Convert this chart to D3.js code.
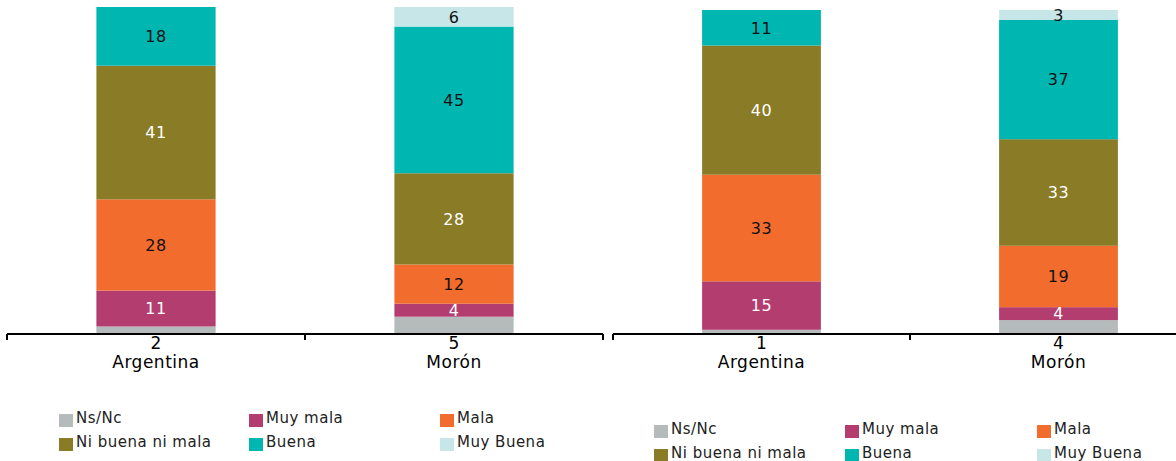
<!DOCTYPE html>
<html>
<head>
<meta charset="utf-8">
<script src="https://cdn.jsdelivr.net/npm/d3@7"></script>
<style>
  html, body { margin: 0; padding: 0; background: #fff; }
  svg { display: block; font-family: "DejaVu Sans", "Open Sans", sans-serif; }
</style>
</head>
<body>
<svg id="chart" width="1176" height="461"></svg>
<script>
// Categories and series
const categories = ["Argentina", "Morón"];
const seriesNames = ["Ns/Nc", "Muy mala", "Mala", "Ni buena ni mala", "Buena", "Muy Buena"];
const seriesColors = ["#b5babb", "#b33d6f", "#f26c2d", "#8a7b26", "#00b6b1", "#c7e6e8"];
const labelColors = ["#111", "#fff", "#111", "#fff", "#111", "#111"];

// Left panel values (per category, in series order)
const nsnc1 = [2, 5];
const muyMala1 = [11, 4];
const mala1 = [28, 12];
const niBuena1 = [41, 28];
const buena1 = [18, 45];
const muyBuena1 = [0, 6];

// Right panel values
const nsnc2 = [1, 4];
const muyMala2 = [15, 4];
const mala2 = [33, 19];
const niBuena2 = [40, 33];
const buena2 = [11, 37];
const muyBuena2 = [0, 3];

function buildRows(cols) {
  return categories.map((c, i) => {
    const row = { category: c };
    seriesNames.forEach((s, j) => row[s] = cols[j][i]);
    return row;
  });
}

const panels = [
  { rows: buildRows([nsnc1, muyMala1, mala1, niBuena1, buena1, muyBuena1]),
    x0: 7, x1: 603, yBase: 333, yTop: 7,
    legend: { x: 59, y: 412, cols: [0, 190, 381] } },
  { rows: buildRows([nsnc2, muyMala2, mala2, niBuena2, buena2, muyBuena2]),
    x0: 613, x1: 1207, yBase: 333, yTop: 10,
    legend: { x: 654, y: 423, cols: [0, 191, 383] } }
];

const svg = d3.select("#chart");
const stack = d3.stack().keys(seriesNames);
const color = d3.scaleOrdinal().domain(seriesNames).range(seriesColors);
const textColor = d3.scaleOrdinal().domain(seriesNames).range(labelColors);

panels.forEach(p => {
  const x = d3.scaleBand().domain(categories).range([p.x0, p.x1])
    .paddingInner(0.6).paddingOuter(0.3);
  const y = d3.scaleLinear().domain([0, 100]).range([p.yBase, p.yTop]);
  const g = svg.append("g");
  const layers = stack(p.rows);

  // stacked bars
  g.selectAll("g.layer").data(layers).join("g")
    .attr("class", "layer")
    .attr("fill", d => color(d.key))
    .selectAll("rect").data(d => d).join("rect")
    .attr("x", d => x(d.data.category))
    .attr("width", x.bandwidth())
    .attr("y", d => y(d[1]))
    .attr("height", d => y(d[0]) - y(d[1]));

  // value labels inside the segments (Ns/Nc goes under the axis)
  layers.forEach(layer => {
    if (layer.key === "Ns/Nc") return;
    g.selectAll(null).data(layer.filter(d => d[1] - d[0] > 0)).join("text")
      .attr("x", d => x(d.data.category) + x.bandwidth() / 2)
      .attr("y", d => (y(d[0]) + y(d[1])) / 2)
      .attr("dy", "0.36em")
      .attr("text-anchor", "middle")
      .attr("font-size", 16)
      .attr("letter-spacing", 0.5)
      .attr("fill", textColor(layer.key))
      .text(d => d[1] - d[0]);
  });

  // axis line with ticks at band boundaries
  const axisY = p.yBase + 1;
  const step = x.step();
  const bounds = [p.x0].concat(categories.slice(1).map(c => x(c) - step * x.paddingInner() / 2), [p.x1]);
  g.append("line")
    .attr("x1", p.x0).attr("x2", p.x1)
    .attr("y1", axisY).attr("y2", axisY)
    .attr("stroke", "#000").attr("stroke-width", 2);
  g.selectAll("line.tick").data(bounds).join("line")
    .attr("class", "tick")
    .attr("x1", d => d).attr("x2", d => d)
    .attr("y1", axisY).attr("y2", axisY + 6)
    .attr("stroke", "#000").attr("stroke-width", 2);

  // Ns/Nc value just below the axis, then the category name
  g.selectAll("text.nsnc").data(p.rows).join("text")
    .attr("class", "nsnc")
    .attr("x", d => x(d.category) + x.bandwidth() / 2)
    .attr("y", axisY + 15)
    .attr("text-anchor", "middle")
    .attr("font-size", 17)
    .attr("fill", "#000")
    .text(d => d["Ns/Nc"]);
  g.selectAll("text.cat").data(categories).join("text")
    .attr("class", "cat")
    .attr("x", d => x(d) + x.bandwidth() / 2)
    .attr("y", axisY + 34)
    .attr("text-anchor", "middle")
    .attr("font-size", 17)
    .attr("letter-spacing", 0.5)
    .attr("fill", "#000")
    .text(d => d);

  // legend: 3 columns x 2 rows
  const lg = g.append("g").attr("transform", `translate(${p.legend.x},${p.legend.y})`);
  const items = lg.selectAll("g").data(seriesNames).join("g")
    .attr("transform", (d, i) => `translate(${p.legend.cols[i % 3]},${Math.floor(i / 3) * 24})`);
  items.append("rect")
    .attr("x", 0).attr("y", 2).attr("width", 14).attr("height", 13)
    .attr("fill", d => color(d));
  items.append("text")
    .attr("x", 17).attr("y", 11)
    .attr("font-size", 15)
    .attr("letter-spacing", 0.5)
    .attr("fill", "#222")
    .text(d => d);
});
</script>
</body>
</html>
